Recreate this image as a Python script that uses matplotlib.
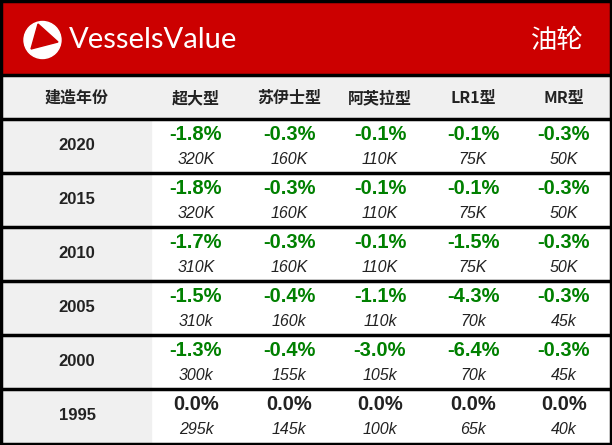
import matplotlib.pyplot as plt
from matplotlib.patches import Rectangle, Circle, Polygon

# data
title = '油轮'
brand = 'VesselsValue'
columns = ['建造年份', '超大型', '苏伊士型', '阿芙拉型', 'LR1型', 'MR型']
years = ['2020', '2015', '2010', '2005', '2000', '1995']
changes = [
    [-1.8, -0.3, -0.1, -0.1, -0.3],
    [-1.8, -0.3, -0.1, -0.1, -0.3],
    [-1.7, -0.3, -0.1, -1.5, -0.3],
    [-1.5, -0.4, -1.1, -4.3, -0.3],
    [-1.3, -0.4, -3.0, -6.4, -0.3],
    [0.0, 0.0, 0.0, 0.0, 0.0],
]
prices = [
    ['320K', '160K', '110K', '75K', '50K'],
    ['320K', '160K', '110K', '75K', '50K'],
    ['310K', '160K', '110K', '75K', '50K'],
    ['310k', '160k', '110k', '70k', '45k'],
    ['300k', '155k', '105k', '70k', '45k'],
    ['295k', '145k', '100k', '65k', '40k'],
]

# layout (pixels)
W, H = 612, 445
red = '#cc0000'
green = '#008000'
dark = '#222222'
col_x = [77, 196, 289, 380, 473, 564]
head_top, head_bot = 75, 118
row_top = 119
row_h = 54

cjk = ['Noto Sans CJK SC', 'DejaVu Sans']
arial = ['Liberation Sans', 'DejaVu Sans']

fig = plt.figure(figsize=(W / 100, H / 100), dpi=100)
ax = fig.add_axes([0, 0, 1, 1])
ax.set_xlim(0, W)
ax.set_ylim(H, 0)
ax.axis('off')

# red banner
ax.add_patch(Rectangle((0, 0), W, head_top, color=red, zorder=0))
ax.add_patch(Circle((42.5, 40), 18.5, color='white', zorder=2))
ax.add_patch(Polygon([(38, 24), (58, 42), (31, 49)], closed=True, color=red, zorder=3))
ax.text(69, 40, brand, color='white', fontsize=21, family=['Lato', 'DejaVu Sans'],
        va='center', ha='left')
ax.text(584, 40, title, color='white', fontsize=19, family=cjk, va='center', ha='right')

# header row
ax.add_patch(Rectangle((0, head_top), W, head_bot - head_top, color='#f0f0f0', zorder=0))
for x, c in zip(col_x, columns):
    ax.text(x, 98, c, color=dark, fontsize=11.5, fontweight='bold', family=cjk,
            ha='center', va='center')

# body rows
n = len(years)
ax.add_patch(Rectangle((0, row_top), 151, n * row_h, color='#f0f0f0', zorder=0))
for i, yr in enumerate(years):
    top = row_top + i * row_h
    ax.text(col_x[0], top + 27, yr, color=dark, fontsize=12, fontweight='bold',
            family=arial, ha='center', va='center')
    for j in range(5):
        v = changes[i][j]
        col = green if v < 0 else dark
        ax.text(col_x[j + 1], top + 15, '{:.1f}%'.format(v), color=col, fontsize=14.5,
                fontweight='bold', family=arial, ha='center', va='center')
        ax.text(col_x[j + 1], top + 41, prices[i][j], color=dark, fontsize=11.5,
                style='italic', family=arial, ha='center', va='center')

# grid lines
ax.axhline(74.5, color='black', lw=2.5, zorder=5)
for i in range(n):
    ax.axhline(row_top - 0.5 + i * row_h, color='black', lw=2.5, zorder=5)
ax.add_patch(Rectangle((1.2, 1.2), W - 2.4, H - 2.4, fill=False, ec='black', lw=2.5, zorder=6))

fig.savefig('out.png', dpi=100)
